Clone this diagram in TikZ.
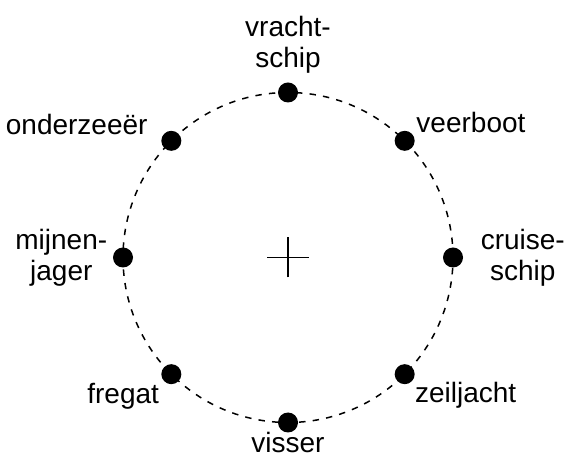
\documentclass[tikz,border=0pt]{standalone}
\usepackage{fontspec}
\setmainfont{Liberation Sans}
\usepackage{tikz}
\usetikzlibrary{positioning}
\tikzset{
  shipdot/.style={circle, fill=black, inner sep=0pt, minimum size=10pt},
  shiplbl/.style={inner sep=0pt, font=\fontsize{14}{15.5}\selectfont, align=center},
}

\begin{document}
\begin{tikzpicture}[x=0.5pt, y=0.5pt]
  \useasboundingbox (0,0) rectangle (567,460);
  \coordinate (c) at (288,202.5);
  % route
  \draw[line width=0.75pt, dash pattern=on 3.2pt off 3.6pt] (c) circle (165);
  \draw[line width=0.7pt] ([xshift=-10.5pt]c) -- ([xshift=10.5pt]c);
  \draw[line width=0.7pt] ([yshift=-10pt]c) -- ([yshift=10pt]c);
  % ships
  \foreach \nm/\ang in {vracht/90, veer/45, cruise/0, zeil/-45, visser/-90,
                        fregat/-135, mijnen/180, onderzee/135}
    \node[shipdot] (\nm) at ([shift={(\ang:165)}]c) {};
  \node[shiplbl, anchor=south, yshift=4pt] at (vracht.north) {vracht-\\schip};
  \node[shiplbl, anchor=base west, xshift=0.5pt, yshift=4pt] at (veer.east) {veerboot};
  \node[shiplbl, anchor=west, xshift=8.5pt] at (cruise.east) {cruise-\\schip};
  \node[shiplbl, anchor=base west, xshift=5pt, yshift=-14pt] at (zeil.center) {zeiljacht};
  \node[shiplbl, anchor=base, yshift=-10pt] at (visser.south) {visser};
  \node[shiplbl, anchor=base east, xshift=-6pt, yshift=-14.5pt] at (fregat.center) {fregat};
  \node[shiplbl, anchor=east, xshift=-2.5pt] at (mijnen.west) {mijnen-\\jager};
  \node[shiplbl, anchor=base east, xshift=-6.5pt, yshift=3pt] at (onderzee.west) {onderzeeër};
\end{tikzpicture}
\end{document}
